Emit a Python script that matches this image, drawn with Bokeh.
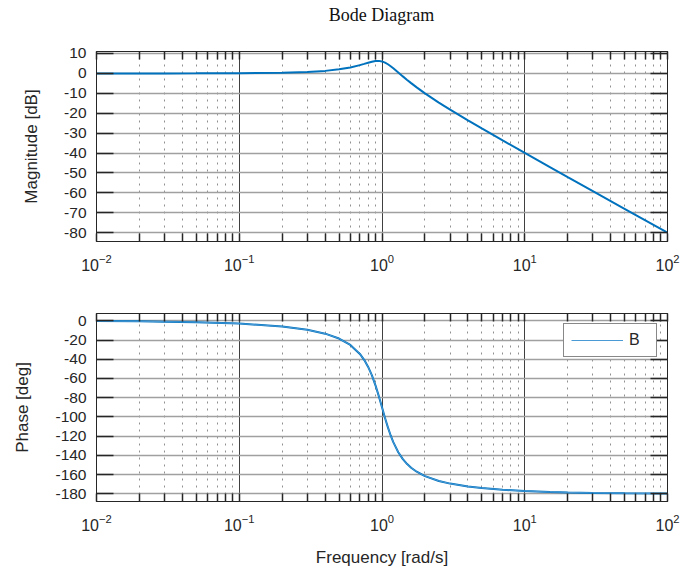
from bokeh.plotting import figure
from bokeh.layouts import column
from bokeh.models import (LogAxis, LinearAxis, FixedTicker, CustomJSTickFormatter,
                          LogTickFormatter, Legend, LegendItem, ColumnDataSource, Div)
from bokeh.embed import file_html
from bokeh.resources import INLINE

# ---- data ----
freq = [0.01, 0.02, 0.03, 0.05, 0.1, 0.2, 0.3, 0.4, 0.5, 0.6, 0.7, 0.75, 0.8, 0.85, 0.9,
        0.95, 1.0, 1.05, 1.1, 1.15, 1.2, 1.3, 1.4, 1.5, 1.6, 1.75, 2, 2.5, 3, 4, 5, 7,
        10, 15, 20, 30, 50, 100]
magnitude_db = [0.0, 0.0, 0.01, 0.02, 0.08, 0.31, 0.70, 1.27, 2.04, 3.01, 4.17, 4.79, 5.38,
                5.89, 6.22, 6.29, 6.02, 5.43, 4.60, 3.62, 2.57, 0.46, -1.50, -3.27, -4.88,
                -7.0, -10.0, -14.64, -18.2, -23.6, -27.65, -33.65, -39.92, -47.0, -52.02,
                -59.08, -67.96, -80.0]
phase_deg = [-0.29, -0.57, -0.86, -1.44, -2.89, -5.95, -9.36, -13.39, -18.43, -25.11, -34.46,
             -40.6, -48.01, -56.86, -67.11, -78.40, -90.0, -101.05, -110.9, -119.3, -126.25,
             -136.7, -143.9, -149.04, -152.85, -157.0, -161.57, -166.6, -169.38, -172.4,
             -174.05, -175.8, -177.11, -178.1, -178.56, -179.04, -179.43, -179.71]

x_major = [0.01, 0.1, 1, 10, 100]
x_minor = [m * d for d in [0.01, 0.1, 1, 10] for m in range(2, 10)]
mag_ticks = [10, 0, -10, -20, -30, -40, -50, -60, -70, -80]
phase_ticks = [0, -20, -40, -60, -80, -100, -120, -140, -160, -180]

BLUE = "#0072BD"
TXT = "#262626"
FONT = "Liberation Sans"

src = ColumnDataSource(dict(f=freq, m=magnitude_db, ph=phase_deg))

blank_fmt = CustomJSTickFormatter(code="return '';")
int_fmt = CustomJSTickFormatter(code="return tick.toFixed(0);")


def make_fig(height, ytop, ybot, yticks, ylabel, border_top, border_bottom, xlabel=None):
    p = figure(width=680, height=height, x_axis_type="log", x_range=(0.01, 100),
               y_range=(ybot, ytop), output_backend="svg", toolbar_location=None,
               min_border_left=96, min_border_right=13, min_border_top=border_top,
               min_border_bottom=border_bottom, x_axis_location=None, y_axis_location=None)
    p.outline_line_color = TXT
    p.outline_line_width = 1
    xt = FixedTicker(ticks=x_major, minor_ticks=x_minor)
    yt = FixedTicker(ticks=yticks)
    for loc in ("below", "above"):
        lab = loc == "below"
        ax = LogAxis(ticker=xt, formatter=LogTickFormatter() if lab else blank_fmt)
        ax.major_tick_in = 8
        ax.major_tick_out = 0
        ax.minor_tick_in = 8
        ax.minor_tick_out = 0
        ax.axis_line_color = TXT
        ax.major_tick_line_color = TXT
        ax.minor_tick_line_color = TXT
        ax.major_tick_line_width = 1.5
        ax.minor_tick_line_width = 1.5
        ax.major_label_text_font = FONT
        ax.major_label_text_color = TXT
        ax.major_label_text_font_size = "16px" if lab else "0px"
        ax.major_label_standoff = 12 if lab else 0
        if lab and xlabel:
            ax.axis_label = xlabel
            ax.axis_label_text_font = FONT
            ax.axis_label_text_font_style = "normal"
            ax.axis_label_text_font_size = "17px"
            ax.axis_label_text_color = TXT
            ax.axis_label_standoff = 14
        p.add_layout(ax, loc)
    for loc, lab in (("left", True), ("right", False)):
        ax = LinearAxis(ticker=yt, formatter=int_fmt if lab else blank_fmt)
        ax.major_tick_in = 17
        ax.major_tick_out = 0
        ax.minor_tick_in = 0
        ax.minor_tick_out = 0
        ax.axis_line_color = TXT
        ax.major_tick_line_color = TXT
        ax.major_tick_line_width = 1.5
        ax.major_label_text_font = FONT
        ax.major_label_text_color = TXT
        ax.major_label_text_font_size = "15.5px" if lab else "0px"
        ax.major_label_standoff = 10 if lab else 0
        if lab:
            ax.axis_label = ylabel
            ax.axis_label_text_font = FONT
            ax.axis_label_text_font_style = "normal"
            ax.axis_label_text_font_size = "17px"
            ax.axis_label_text_color = TXT
            ax.axis_label_standoff = 20
        p.add_layout(ax, loc)
    # grids
    p.xgrid.ticker = xt
    p.xgrid.grid_line_color = "#404040"
    p.xgrid.grid_line_width = 1
    p.xgrid.minor_grid_line_color = "#909090"
    p.xgrid.minor_grid_line_dash = "2 5"
    p.xgrid.minor_grid_line_width = 1
    p.ygrid.ticker = yt
    p.ygrid.grid_line_color = "#a0a0a0"
    p.ygrid.grid_line_width = 1.5
    return p


title = Div(text='<div style="font-family:\'Liberation Serif\';font-size:18px;color:#111111;'
                 'text-align:center;line-height:30px;width:571px">Bode Diagram</div>',
            width=571, height=26, margin=(0, 0, 0, 96))

p1 = make_fig(264, 11, -84.4, mag_ticks, "Magnitude [dB]", 25, 49)
p1.line("f", "m", source=src, line_color=BLUE, line_width=2)

p2 = make_fig(280, 7.6, -188, phase_ticks, "Phase [deg]", 23, 69, xlabel="Frequency [rad/s]")
p2.line("f", "ph", source=src, line_color=BLUE, line_width=2)
leg_line = p2.line("f", "ph", source=src, line_color="#4a9ad6", line_width=1)
leg_dot = p2.scatter(x=[], y=[], marker="circle", size=4, color=BLUE)
legend = Legend(items=[LegendItem(label="B", renderers=[leg_line, leg_dot])],
                location="top_right", margin=10, padding=7, glyph_width=52, glyph_height=16,
                label_standoff=6, label_text_font=FONT, label_text_font_size="16px",
                label_text_color=TXT, border_line_color="#111111", border_line_width=1.5,
                background_fill_alpha=1, spacing=0)
p2.add_layout(legend, "center")

layout = column(title, p1, p2, spacing=0)
open("out.html", "w").write(file_html(layout, INLINE))
